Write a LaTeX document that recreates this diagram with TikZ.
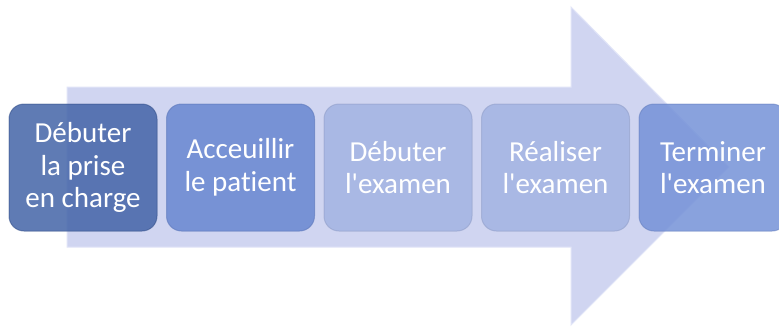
\documentclass[tikz,border=0pt]{standalone}
\usepackage{fontspec}
\setmainfont{Carlito}[Ligatures={NoCommon}]
\definecolor{arrowfill}{RGB}{208,213,241}
\definecolor{arrowedge}{RGB}{225,229,248}
\definecolor{cA}{RGB}{67,100,168}
\definecolor{cB}{RGB}{104,135,209}
\definecolor{cC}{RGB}{163,179,226}
\definecolor{cE}{RGB}{117,146,216}
\tikzset{
  stepbox/.style={rounded corners=15pt, minimum width=148pt, minimum height=127pt,
    inner sep=0pt, fill opacity=0.85, draw opacity=0.6, text opacity=1, text=white, align=center,
    font=\fontsize{29}{32.5}\selectfont, line width=1pt},
}
\begin{document}
\begin{tikzpicture}[x=1pt,y=-1pt]
\useasboundingbox (0,0) rectangle (779,327);
\clip (0,0) rectangle (779,327);
\fill[white] (0,0) rectangle (779,327);
% big arrow
\draw[fill=arrowfill, draw=arrowedge, line width=1pt]
  (67,87) -- (571,87) -- (571,7) -- (729,167) -- (571,325) -- (571,247) -- (67,247) -- cycle;
% steps
\node[stepbox, fill=cA, draw=cA!85!black] (s1) at (83,167.5) {Débuter\\la prise\\en charge};
\node[stepbox, fill=cB, draw=cB!90!black] (s2) at (240.5,167.5) {Acceuillir\\le patient};
\node[stepbox, fill=cC, draw=cC!90!black] (s3) at (398,167.5) {Débuter\\l\textquotesingle examen};
\node[stepbox, fill=cC, draw=cC!90!black] (s4) at (555.5,167.5) {Réaliser\\l\textquotesingle examen};
\node[stepbox, fill=cE, draw=cE!90!black] (s5) at (713,167.5) {Terminer\\l\textquotesingle examen};
\end{tikzpicture}
\end{document}
